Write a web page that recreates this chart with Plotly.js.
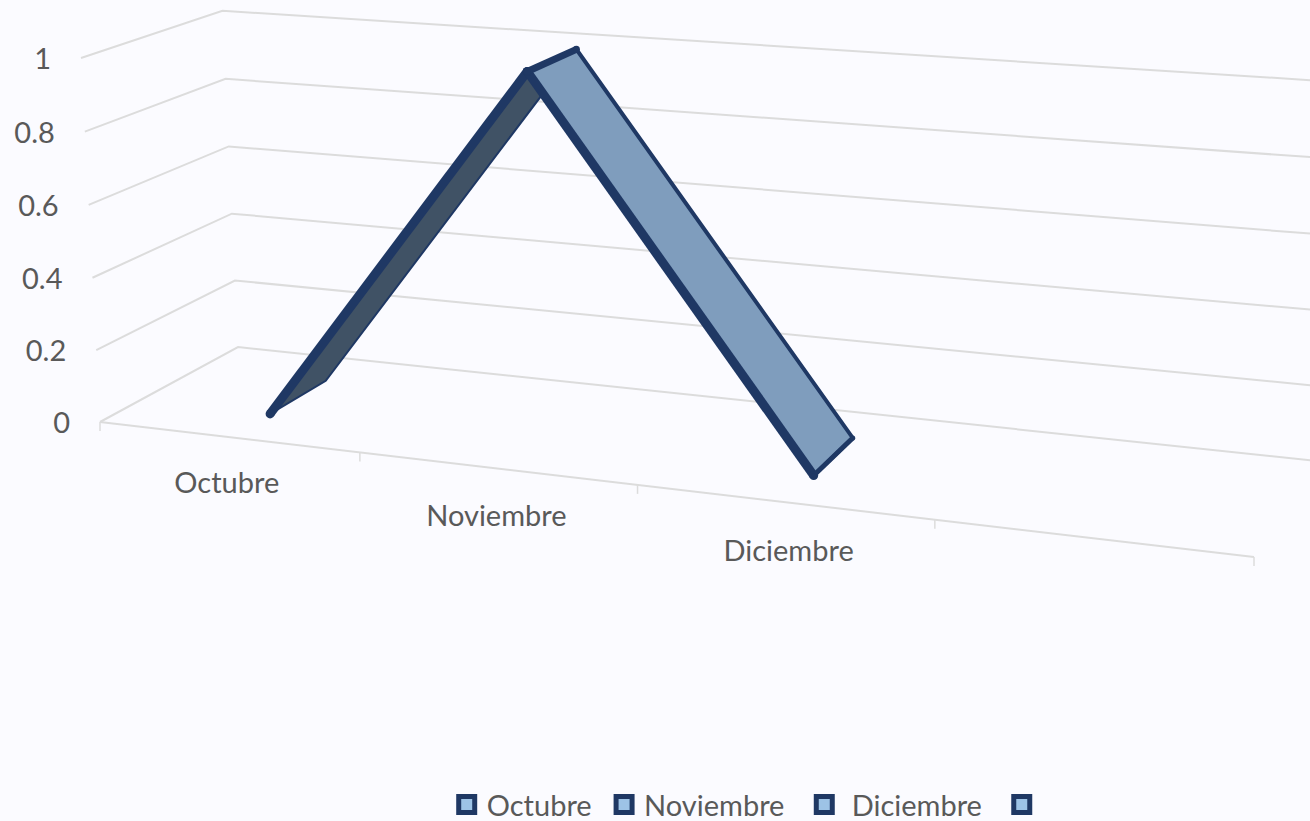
<!DOCTYPE html>
<html><head><meta charset="utf-8">
<script src="https://cdn.plot.ly/plotly-3.0.1.min.js"></script>
<style>html,body{margin:0;padding:0;background:#fbfbff;overflow:hidden}</style></head>
<body><div id="chart" style="width:1310px;height:821px"></div>
<script>
// data
const categories = ['Octubre','Noviembre','Diciembre'];
const values = [0,1,0];
const valueTicks = [0,0.2,0.4,0.6,0.8,1];
const tickLabels = ['0','0.2','0.4','0.6','0.8','1'];
const legendNames = ['Octubre\u00a0','Noviembre\u00a0\u00a0','\u00a0Diciembre\u00a0\u00a0','\u00a0'];

// projection of the Excel 3-D line chart box: (category slot, value, depth) -> axis coordinates
const A=[100,422], B=[1254,557], V=[81,58], D=[238,347];
const wc=0.872, wv=0.985, wd=1.085, slots=4;
function proj(c,v,d){
  const t=c/slots;
  const w=1+t*(wc-1)+v*(wv-1)+d*(wd-1);
  const f=k=>(A[k]+t*(wc*B[k]-A[k])+v*(wv*V[k]-A[k])+d*(wd*D[k]-A[k]))/w;
  return [f(0),f(1)];
}
// the ribbon sits slightly off the wall projection in the source chart
function ribbon(c,v,d){const p=proj(c,v,d);return [p[0]+1+7*v,p[1]+1.5];}
function line(pts,color,width,fill,fc,cap){
  const tr={x:pts.map(p=>p[0]),y:pts.map(p=>p[1]),mode:cap?'lines+markers':'lines',showlegend:false,hoverinfo:'skip',
    line:{color:color,width:width,simplify:false},type:'scatter'};
  if(cap)tr.marker={color:color,size:cap,symbol:'circle'};
  if(fill){tr.fill='toself';tr.fillcolor=fc;}
  return tr;
}
const grid='#dcdcdc', navy='#1f3864';
const traces=[];
// gridlines: left wall + back wall (running off the right edge of the picture)
valueTicks.forEach(v=>traces.push(line([proj(0,v,0),proj(0,v,1),proj(slots+0.2,v,1)],grid,2)));
// floor front edge and tick marks
traces.push(line([proj(0,0,0),proj(slots,0,0)],grid,2));
for(let c=0;c<=slots;c++){const p=proj(c,0,0);traces.push(line([p,[p[0],p[1]+9]],grid,1.5));}
// ribbon
const dF=0.30,dB=0.73;
const faceCols=['#405265','#7f9dbd'];
for(let i=0;i<values.length-1;i++){
  const f0=ribbon(i+.5,values[i],dF),f1=ribbon(i+1.5,values[i+1],dF),
        b0=ribbon(i+.5,values[i],dB),b1=ribbon(i+1.5,values[i+1],dB);
  traces.push(line([f0,f1,b1,b0,f0],navy,i==0?2:4,true,faceCols[i]));
  traces.push(line([f0,f1],navy,9,false,null,9));
}
// top rim and end cap of ribbon
const pk=ribbon(1.5,values[1],dF),pkb=ribbon(1.5,values[1],dB);
traces.push(line([pk,pkb],navy,7,false,null,7));
const e=ribbon(2.5,values[2],dF),eb=ribbon(2.5,values[2],dB);
traces.push(line([e,eb],navy,5,false,null,5));
// value labels
const txt={family:'Lato, Carlito, sans-serif',size:29,color:'#595959'};
traces.push({type:'scatter',mode:'text',x:valueTicks.map(v=>proj(0,v,0)[0]-30),y:valueTicks.map(v=>proj(0,v,0)[1]+4),
  text:tickLabels,textposition:'middle left',textfont:txt,showlegend:false,hoverinfo:'skip',cliponaxis:false});
// category labels
const labelDx=[-1,0,5], labelDy=[49,50,52];
traces.push({type:'scatter',mode:'text',x:categories.map((c,i)=>proj(i+.5,0,0)[0]+labelDx[i]),y:categories.map((c,i)=>proj(i+.5,0,0)[1]+labelDy[i]),
  text:categories,textposition:'middle center',textfont:txt,showlegend:false,hoverinfo:'skip',cliponaxis:false});
// legend entries
legendNames.forEach(n=>traces.push({type:'scatter',mode:'markers',x:[null],y:[null],name:n,
  marker:{symbol:'square',size:16,color:'#9dc3e6',line:{color:navy,width:5}}}));

const layout={width:1310,height:821,margin:{l:0,r:0,t:0,b:0,autoexpand:false},paper_bgcolor:'#fbfbff',plot_bgcolor:'#fbfbff',
  xaxis:{range:[0,1310],visible:false,fixedrange:true},
  yaxis:{range:[821,0],visible:false,fixedrange:true},
  showlegend:true,
  legend:{orientation:'h',x:0.341,xanchor:'left',y:-0.011,yanchor:'bottom',bgcolor:'rgba(0,0,0,0)',
    font:txt,itemwidth:30,tracegroupgap:0}
};
Plotly.newPlot('chart',traces,layout,{displayModeBar:false,staticPlot:true});
</script></body></html>
